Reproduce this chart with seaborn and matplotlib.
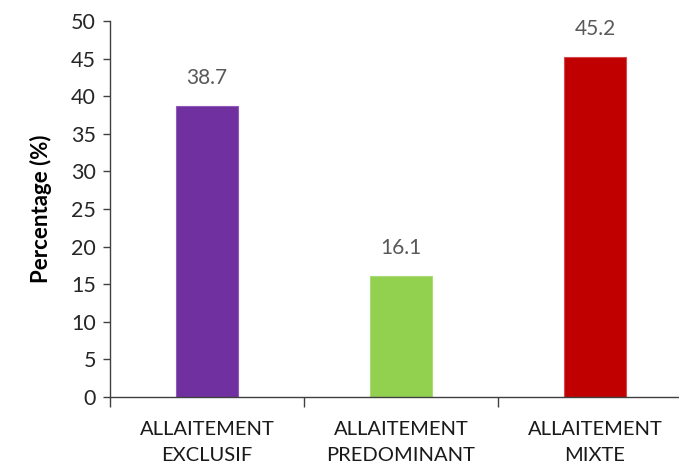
import matplotlib
matplotlib.use("Agg")
import matplotlib.pyplot as plt
import seaborn as sns
import pandas as pd

# Breastfeeding type distribution
categories = ["ALLAITEMENT\nEXCLUSIF", "ALLAITEMENT\nPREDOMINANT", "ALLAITEMENT\nMIXTE"]
percentages = [38.7, 16.1, 45.2]
bar_colors = ["#7030A0", "#92D050", "#C00000"]
edge_colors = ["#8F5AB8", "#A9DC78", "#D44A4A"]
y_ticks = [0, 5, 10, 15, 20, 25, 30, 35, 40, 45, 50]

df = pd.DataFrame({"type": categories, "pct": percentages})

sns.set_style("ticks")
plt.rcParams["font.family"] = ["Lato", "DejaVu Sans"]

fig = plt.figure(figsize=(6.79, 4.70), dpi=100)
ax = fig.add_axes([110 / 679, 1 - 397 / 470, 582 / 679, 376 / 470])

sns.barplot(data=df, x="type", y="pct", hue="type", palette=bar_colors,
            width=0.315, legend=False, ax=ax, saturation=1)

for patch, ec in zip(ax.patches, edge_colors):
    patch.set_edgecolor(ec)
    patch.set_linewidth(0.8)

for i, v in enumerate(percentages):
    ax.annotate(f"{v:.1f}", xy=(i, v), xytext=(0, 20), textcoords="offset points",
                ha="center", va="center", fontsize=15, color="#595959")

ax.set_xlim(-0.5, 2.5)
ax.set_ylim(0, 50)
ax.set_yticks(y_ticks)
ax.set_yticklabels([str(t) for t in y_ticks], fontsize=15.5, color="#262626")

ax.set_xticks(range(len(categories)))
ax.set_xticklabels(categories, fontsize=14.5, color="#1a1a1a", linespacing=1.65)
ax.tick_params(axis="x", which="major", length=0, pad=17)
ax.set_xticks([-0.5, 0.5, 1.5, 2.5], minor=True)
ax.tick_params(axis="x", which="minor", length=7, width=1, color="#404040")
ax.tick_params(axis="y", length=5, width=1, color="#404040", pad=5)

ax.set_xlabel("")
ax.set_ylabel("Percentage (%)", fontsize=16, fontweight="bold", color="#000000", labelpad=14)

sns.despine(ax=ax)
for side in ("left", "bottom"):
    ax.spines[side].set_color("#404040")
    ax.spines[side].set_linewidth(1)

fig.savefig("out.png", dpi=100)
